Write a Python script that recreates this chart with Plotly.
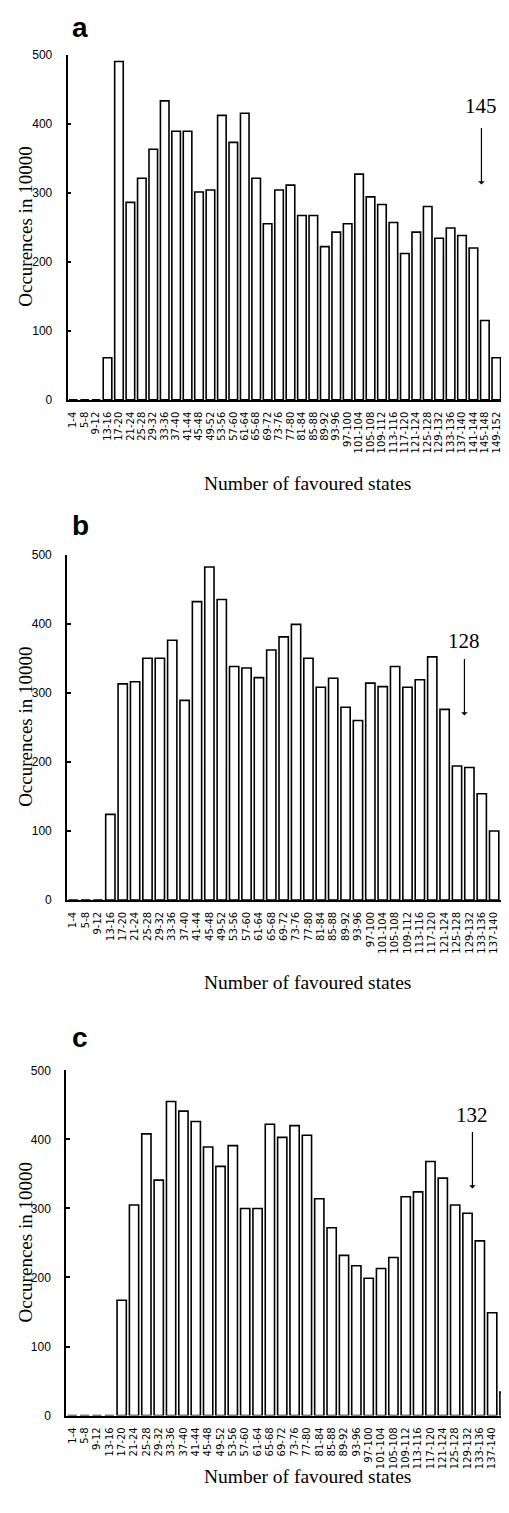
import plotly.graph_objects as go

# ---------------- data ----------------
bins_a = [f"{4*i+1}-{4*i+4}" for i in range(39)]   # 1-4 ... 153-156
bins_b = [f"{4*i+1}-{4*i+4}" for i in range(36)]   # 1-4 ... 141-144
bins_c = [f"{4*i+1}-{4*i+4}" for i in range(36)]   # 1-4 ... 141-144

occ_a = [0, 0, 0, 61, 490, 286, 321, 363, 433, 389, 389, 301, 304, 412, 373, 415,
         321, 255, 304, 311, 267, 267, 222, 243, 255, 327, 294, 283, 257, 212, 243,
         280, 234, 249, 238, 220, 115, 61, 13]
occ_b = [0, 0, 0, 124, 313, 316, 350, 350, 376, 289, 432, 482, 435, 338, 336, 322,
         362, 381, 399, 350, 308, 321, 279, 260, 314, 309, 338, 308, 319, 352, 276,
         194, 192, 154, 100, 5]
occ_c = [0, 0, 0, 0, 167, 305, 408, 341, 455, 441, 426, 389, 361, 391, 300, 300,
         422, 403, 420, 406, 314, 272, 232, 217, 199, 213, 229, 317, 324, 368, 344,
         305, 293, 253, 149, 34]

panel_letters = ["a", "b", "c"]
marker_labels = ["145", "128", "132"]
x_title = "Number of favoured states"
y_title = "Occurences in 10000"
y_ticks = [0, 100, 200, 300, 400, 500]

# page has an 8px body margin: the figure is offset by OFF px on both axes
OFF = 8
W, H = 509 - OFF, 1513 - OFF

def py(p):
    return 1 - (p - OFF) / H

def px(p):
    return (p - OFF) / W

panels = [
    dict(bins=bins_a, vals=occ_a, xl=67.5, ytop=48.0, ybot=396.5, xmax=38.11,
         arrow_x=35.7, tip=312, letter_y=20.5, lab_y=99.5, xt_y=481.0),
    dict(bins=bins_b, vals=occ_b, xl=67.0, ytop=552.7, ybot=901.4, xmax=35.2,
         arrow_x=31.6, tip=267, letter_y=523.0, lab_y=639.5, xt_y=984.5),
    dict(bins=bins_c, vals=occ_c, xl=66.1, ytop=1073.3, ybot=1421.7, xmax=35.36,
         arrow_x=32.4, tip=329, letter_y=1040.5, lab_y=1118.0, xt_y=1483.0),
]

fig = go.Figure()
annotations = []

for i, p in enumerate(panels):
    n = i + 1
    xa = "x" if n == 1 else f"x{n}"
    ya = "y" if n == 1 else f"y{n}"
    xs = list(range(len(p["bins"])))
    fig.add_trace(go.Bar(
        x=xs, y=p["vals"], xaxis=xa, yaxis=ya, width=0.75,
        marker=dict(color="white", line=dict(color="black", width=1.6)),
        showlegend=False, hoverinfo="skip",
    ))
    xkey = "xaxis" if n == 1 else f"xaxis{n}"
    ykey = "yaxis" if n == 1 else f"yaxis{n}"
    fig.layout[xkey] = dict(
        domain=[px(p["xl"]), 1.0], anchor=ya, range=[-0.5, p["xmax"]],
        tickmode="array", tickvals=xs, ticktext=p["bins"], tickangle=-90,
        tickfont=dict(family="DejaVu Sans", size=10, color="black"),
        showline=True, linecolor="black", linewidth=1.6, ticks="",
        ticklabelstandoff=6, showgrid=False, zeroline=False, fixedrange=True,
    )
    fig.layout[ykey] = dict(
        domain=[py(p["ybot"]), py(p["ytop"])], anchor=xa, range=[0, 500],
        tickmode="array", tickvals=y_ticks,
        tickfont=dict(family="Liberation Sans", size=12, color="black"),
        showline=True, linecolor="black", linewidth=1.6,
        ticks="inside", ticklen=4, tickwidth=1.5, tickcolor="black",
        ticklabelstandoff=11, showgrid=False, zeroline=False, fixedrange=True,
    )
    annotations.append(dict(
        text=f"<b>{panel_letters[i]}</b>", xref="paper", yref="paper",
        x=px(70), y=py(p["letter_y"]), xanchor="left", yanchor="middle",
        showarrow=False, font=dict(family="Liberation Sans", size=28, color="black"),
    ))
    annotations.append(dict(
        text=x_title, xref="paper", yref="paper", x=px(307), y=py(p["xt_y"]),
        xanchor="center", yanchor="middle", showarrow=False,
        font=dict(family="Liberation Serif", size=19.5, color="black"),
    ))
    annotations.append(dict(
        text=y_title, xref="paper", yref="paper", x=px(25.5),
        y=py((p["ytop"] + p["ybot"]) / 2), xanchor="center", yanchor="middle",
        textangle=-90, showarrow=False,
        font=dict(family="Liberation Serif", size=19, color="black"),
    ))
    annotations.append(dict(
        text=marker_labels[i], xref=xa, yref="paper", x=p["arrow_x"],
        y=py(p["lab_y"]), xanchor="center", yanchor="middle", showarrow=False,
        font=dict(family="Liberation Serif", size=21, color="black"),
    ))
    annotations.append(dict(
        text="", xref=xa, yref=ya, x=p["arrow_x"], y=p["tip"], ax=0, ay=-58,
        showarrow=True, arrowhead=1, arrowsize=0.9, arrowwidth=1.2,
        arrowcolor="black",
    ))

fig.update_layout(
    width=W, height=H, margin=dict(l=0, r=0, t=0, b=0),
    paper_bgcolor="white", plot_bgcolor="white",
    annotations=annotations,
)

fig.write_html("out.html")
